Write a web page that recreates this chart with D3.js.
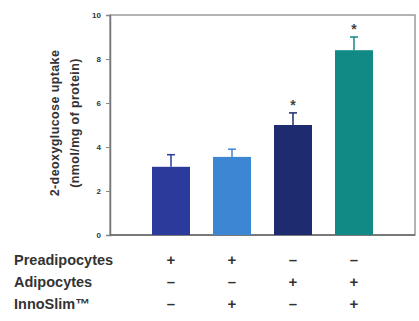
<!DOCTYPE html>
<html>
<head>
<meta charset="utf-8">
<script src="https://cdn.jsdelivr.net/npm/d3@7"></script>
<style>
  body { margin: 0; background: #fff; }
  text { font-family: Arial, "Liberation Sans", sans-serif; }
</style>
</head>
<body>
<div id="chart"></div>
<script>
// data
var groups = ["g1", "g2", "g3", "g4"];
var uptake = [3.1, 3.55, 5.0, 8.4];
var errs = [0.55, 0.35, 0.55, 0.6];
var starred = [false, false, true, true];
var barColors = ["#2b3a9b", "#3c86d3", "#1f2b6f", "#118a85"];
var yTicks = [0, 2, 4, 6, 8, 10];
var rowLabels = ["Preadipocytes", "Adipocytes", "InnoSlim\u2122"];
var preadipocytes = ["+", "+", "\u2013", "\u2013"];
var adipocytes = ["\u2013", "\u2013", "+", "+"];
var innoslim = ["\u2013", "+", "\u2013", "+"];

var W = 419, H = 321;
var margin = {top: 15, right: 4, bottom: 86, left: 110};
var width = W - margin.left - margin.right,
    height = H - margin.top - margin.bottom;

var svg = d3.select("#chart")
  .append("svg")
  .attr("width", W)
  .attr("height", H);

var g = svg.append("g")
  .attr("transform", "translate(" + margin.left + "," + margin.top + ")");

var x = d3.scalePoint().domain(groups).range([0, width]).padding(1);
var y = d3.scaleLinear().domain([0, 10]).range([height, 0]);
var barW = 38;

// frame
g.append("rect")
  .attr("x", 0).attr("y", 0)
  .attr("width", width).attr("height", height)
  .attr("fill", "none")
  .attr("stroke", "#9a9a9a")
  .attr("stroke-width", 1.5);

// y axis
var yAxis = g.append("g")
  .call(d3.axisLeft(y).tickValues(yTicks).tickSize(4).tickPadding(5));
yAxis.select(".domain").attr("stroke", "#777").attr("stroke-width", 1.5);
yAxis.selectAll(".tick line").attr("stroke", "#888");
yAxis.selectAll(".tick text")
  .attr("font-size", 8)
  .attr("font-weight", "bold")
  .attr("fill", "#333");

// bottom line
g.append("line")
  .attr("x1", 0).attr("x2", width)
  .attr("y1", height).attr("y2", height)
  .attr("stroke", "#666").attr("stroke-width", 1.5);

// bars
g.selectAll("rect.bar")
  .data(groups)
  .enter().append("rect")
  .attr("class", "bar")
  .attr("x", function(d) { return x(d) - barW / 2; })
  .attr("y", function(d, i) { return y(uptake[i]); })
  .attr("width", barW)
  .attr("height", function(d, i) { return height - y(uptake[i]); })
  .attr("fill", function(d, i) { return barColors[i]; });

// error bars (upper only)
var eb = g.selectAll("g.err")
  .data(groups)
  .enter().append("g")
  .attr("class", "err");
eb.append("line")
  .attr("x1", function(d) { return x(d); })
  .attr("x2", function(d) { return x(d); })
  .attr("y1", function(d, i) { return y(uptake[i]); })
  .attr("y2", function(d, i) { return y(uptake[i] + errs[i]); })
  .attr("stroke", function(d, i) { return barColors[i]; })
  .attr("stroke-width", 1.5);
eb.append("line")
  .attr("x1", function(d) { return x(d) - 4; })
  .attr("x2", function(d) { return x(d) + 4; })
  .attr("y1", function(d, i) { return y(uptake[i] + errs[i]); })
  .attr("y2", function(d, i) { return y(uptake[i] + errs[i]); })
  .attr("stroke", function(d, i) { return barColors[i]; })
  .attr("stroke-width", 1.5);

// asterisks
g.selectAll("text.star")
  .data(groups.filter(function(d, i) { return starred[i]; }))
  .enter().append("text")
  .attr("class", "star")
  .attr("x", function(d) { return x(d); })
  .attr("y", function(d) { var i = groups.indexOf(d); return y(uptake[i] + errs[i]) - 3; })
  .attr("text-anchor", "middle")
  .attr("font-size", 14)
  .attr("font-weight", "bold")
  .attr("fill", "#444")
  .text("*");

// y title
var yt = svg.append("text")
  .attr("transform", "translate(66," + (margin.top + height / 2 - 2) + ") rotate(-90)")
  .attr("text-anchor", "middle")
  .attr("font-size", 12.5)
  .attr("font-weight", "bold")
  .attr("letter-spacing", 0.4)
  .attr("fill", "#333");
yt.append("tspan").attr("x", 0).attr("dy", -7).text("2-deoxyglucose uptake");
yt.append("tspan").attr("x", 0).attr("dy", 20).text("(nmol/mg of protein)");

// condition table
var rows = [preadipocytes, adipocytes, innoslim];
var rowY = [260, 282, 304];
rows.forEach(function(r, k) {
  svg.append("text")
    .attr("x", 14).attr("y", rowY[k])
    .attr("dy", "0.35em")
    .attr("font-size", 14.5)
    .attr("font-weight", "bold")
    .attr("fill", "#333")
    .text(rowLabels[k]);
  svg.selectAll("text.sign" + k)
    .data(groups)
    .enter().append("text")
    .attr("class", "sign" + k)
    .attr("x", function(d) { return margin.left + x(d); })
    .attr("y", rowY[k])
    .attr("dy", "0.35em")
    .attr("text-anchor", "middle")
    .attr("font-size", 15)
    .attr("font-weight", "bold")
    .attr("fill", "#333")
    .text(function(d, i) { return r[i]; });
});
</script>
</body>
</html>
